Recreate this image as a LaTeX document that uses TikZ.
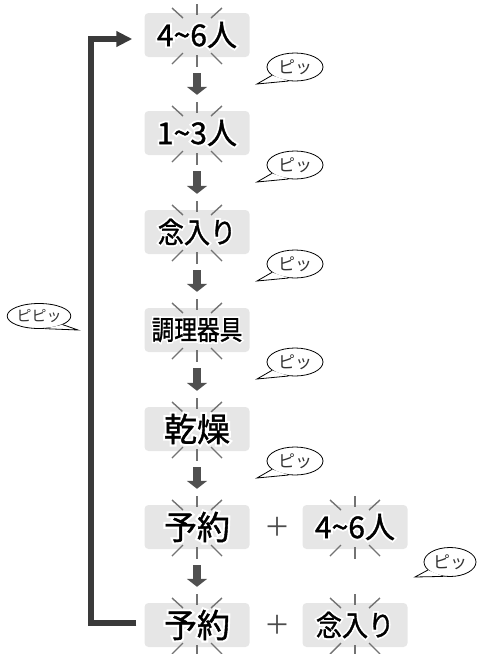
\documentclass[tikz,border=0pt]{standalone}
\usepackage{fontspec}
\usepackage{graphicx}
\usetikzlibrary{arrows.meta,calc,shapes.geometric}
\setmainfont{Noto Sans CJK JP}
\newfontfamily\jpf{Noto Sans CJK JP}[FakeBold=1.2]
\newfontfamily\jph{Noto Sans CJK JP}[FakeBold=14]
\newfontfamily\jpb{Noto Sans CJK JP}
\definecolor{boxgray}{RGB}{230,230,230}
\definecolor{arrowgray}{RGB}{80,80,80}
\definecolor{linegray}{RGB}{58,58,58}
\definecolor{tickgray}{RGB}{115,115,115}
\newcommand\halotext[3]{\scalebox{#2}[1]{\fontsize{#1}{#1}\selectfont\rlap{\jph\color{white}#3}\jpf\color{black}#3}}
\tikzset{
 boxnode/.style={fill=boxgray, rounded corners=4pt, minimum width=105pt, minimum height=44pt, inner sep=0pt},
 txt/.style={inner sep=0pt},
 tick/.style={draw=tickgray, line width=1.4pt},
 dn/.style={draw=arrowgray, line width=8pt, shorten <=16pt, shorten >=16pt, -{Triangle[length=8pt,width=20pt]}},
 fb/.style={draw=linegray, line width=6pt, line join=miter, -{Triangle[length=16pt,width=15pt]}},
 bub/.style={ellipse, draw=black, line width=0.8pt, fill=white, minimum width=56pt, minimum height=28pt, inner sep=0pt, font=\jpb\fontsize{17}{17}\selectfont, text=black!80},
 bubline/.style={draw=black, line width=0.8pt, line join=miter},
 plus/.style={font=\jpb\fontsize{26}{26}\selectfont, text=black!70, inner sep=0pt}
}
\newcommand\sparkle[1]{%
 \draw[tick] ($(#1)+(0,-31)$) -- ($(#1)+(0,-20)$);
 \draw[tick] ($(#1)+(-25,-27)$) -- ($(#1)+(-14,-17)$);
 \draw[tick] ($(#1)+(25,-27)$) -- ($(#1)+(14,-17)$);
 \draw[tick] ($(#1)+(0,20)$) -- ($(#1)+(0,32)$);
 \draw[tick] ($(#1)+(-14,18)$) -- ($(#1)+(-25,29)$);
 \draw[tick] ($(#1)+(14,18)$) -- ($(#1)+(25,29)$);}
% tail: node, relative tip, angle1, angle2
\newcommand\tail[4]{%
 \coordinate (#1tip) at ($(#1.center)+#2$);
 \fill[white] (#1.#3) -- (#1tip) -- (#1.#4) -- cycle;
 \draw[bubline] (#1.#3) -- (#1tip) -- (#1.#4);}
\begin{document}
\begin{tikzpicture}[x=1pt,y=-1pt]
\useasboundingbox (0,0) rectangle (477,654);
% boxes
\node[boxnode] (b1) at (197,35) {};
\node[boxnode] (b2) at (197,133) {};
\node[boxnode] (b3) at (197,232) {};
\node[boxnode] (b4) at (197,330) {};
\node[boxnode] (b5) at (197,429) {};
\node[boxnode] (b6) at (197,527) {};
\node[boxnode] (b7) at (197,625) {};
\node[boxnode] (b6r) at (355,527) {};
\node[boxnode] (b7r) at (355,625) {};
% sparkles
\sparkle{b1}\sparkle{b2}\sparkle{b3}\sparkle{b4}\sparkle{b5}
\sparkle{b6}\sparkle{b7}\sparkle{b6r}\sparkle{b7r}
% texts
\node[txt] (t1) at (b1) {\halotext{30}{1}{4\textasciitilde6人}};
\node[txt] (t2) at (b2) {\halotext{30}{1}{1\textasciitilde3人}};
\node[txt] (t3) at (b3) {\halotext{29}{0.9}{念入り}};
\node[txt] (t4) at (b4) {\halotext{27}{0.84}{調理器具}};
\node[txt] (t5) at (b5) {\halotext{33}{1}{乾燥}};
\node[txt] (t6) at (b6) {\halotext{33}{1}{予約}};
\node[txt] (t7) at (b7) {\halotext{33}{1}{予約}};
\node[txt] (t6r) at (b6r) {\halotext{30}{1}{4\textasciitilde6人}};
\node[txt] (t7r) at (b7r) {\halotext{29}{0.9}{念入り}};
\node[plus] (p6) at (277,527) {＋};
\node[plus] (p7) at (277,625) {＋};
% down arrows
\draw[dn] (b1) -- (b2);
\draw[dn] (b2) -- (b3);
\draw[dn] (b3) -- (b4);
\draw[dn] (b4) -- (b5);
\draw[dn] (b5) -- (b6);
\draw[dn] (b6) -- (b7);
% feedback
\draw[fb] ($(b7.west)+(-8,-2)$) -| ($(b1.west)+(-53,4)$) -- ($(b1.west)+(-12,4)$);
% bubbles
\node[bub] (c1) at (295,67) {ピッ};
\node[bub] (c2) at (295,165) {ピッ};
\node[bub] (c3) at (295,264) {ピッ};
\node[bub] (c4) at (295,362) {ピッ};
\node[bub] (c5) at (295,461) {ピッ};
\node[bub, minimum width=52pt, minimum height=29pt] (c6) at (450,562) {ピッ};
\node[bub, minimum width=63pt, minimum height=25pt, font=\jpb\fontsize{15}{15}\selectfont] (c0) at (39,316) {ピピッ};
\tail{c1}{(-38,17)}{200}{245}
\tail{c2}{(-38,17)}{200}{245}
\tail{c3}{(-38,17)}{200}{245}
\tail{c4}{(-38,17)}{200}{245}
\tail{c5}{(-38,17)}{200}{245}
\tail{c6}{(-35,15)}{200}{245}
\tail{c0}{(39,14)}{340}{295}
\end{tikzpicture}
\end{document}
